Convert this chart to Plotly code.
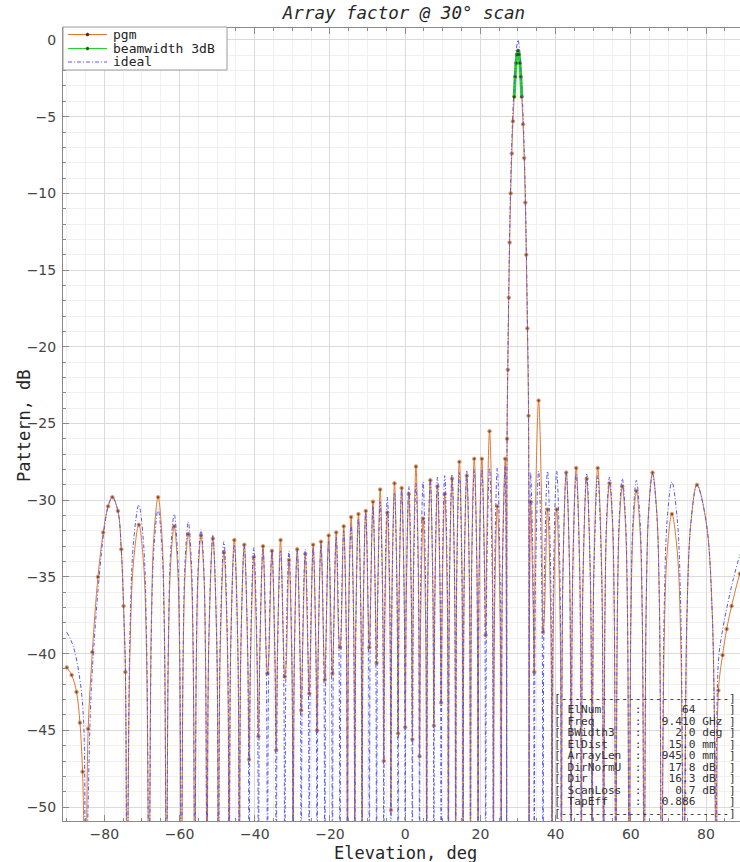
import plotly.graph_objects as go

# ---------------- data (elevation in deg, pattern in dB) ----------------
# side-lobe peaks, left of the main beam then right of it
peak_deg = [
    -77.87, -70.83, -65.70, -61.43, -57.68, -54.29, -51.15, -48.21, -45.44, -42.79,
    -40.26, -37.81, -35.44, -33.14, -30.90, -28.71, -26.57, -24.47, -22.39, -20.36,
    -18.34, -16.35, -14.38, -12.43, -10.49, -8.57, -6.65, -4.74, -2.84, -0.94,
    0.96, 2.86, 4.77, 6.68, 8.59, 10.52, 12.46, 14.41, 16.38, 18.37,
    20.39, 22.43, 24.50, 26.60,
    33.35, 35.48, 37.85, 40.29, 42.83, 45.48, 48.26, 51.20, 54.34, 57.74,
    61.49, 65.77, 70.92, 77.60]
pgm_peak_db = [
    -29.8, -31.6, -29.8, -31.7, -32.2, -32.3, -32.5, -33.4, -32.6, -32.9,
    -33.7, -33.0, -33.3, -32.6, -33.9, -33.2, -33.5, -32.9, -32.7, -32.3,
    -32.1, -31.7, -31.1, -30.9, -30.7, -30.1, -29.3, -30.8, -28.9, -29.2,
    -29.6, -27.8, -31.2, -28.7, -29.1, -29.6, -28.6, -27.5, -28.4, -27.3,
    -27.3, -25.5, -30.4, -27.3,
    -30.1, -23.5, -30.6, -30.6, -28.2, -27.9, -28.6, -27.9, -28.9, -29.1,
    -29.4, -28.2, -30.9, -29.0]
ideal_peak_db = [
    -29.8, -30.3, -30.6, -30.9, -31.4, -31.9, -32.3, -32.7, -32.9, -33.0,
    -33.1, -33.2, -33.3, -33.3, -33.3, -33.3, -33.2, -33.1, -32.9, -32.7,
    -32.4, -32.0, -31.6, -31.2, -30.8, -30.4, -30.1, -29.8, -29.5, -29.3,
    -29.1, -28.9, -28.8, -28.6, -28.5, -28.4, -28.3, -28.2, -28.1, -28.0,
    -28.0, -27.9, -27.9, -27.8,
    -28.2, -28.1, -28.1, -28.1, -28.2, -28.3, -28.3, -28.4, -28.5, -28.6,
    -28.7, -28.3, -28.8, -29.0]

# nulls between the lobes; None = the null drops below the plotted range
null_deg = [
    -85.00, -73.97, -68.12, -63.49, -59.51, -55.95, -52.69, -49.66, -46.81, -44.10,
    -41.51, -39.02, -36.62, -34.29, -32.02, -29.80, -27.64, -25.51, -23.43, -21.37,
    -19.35, -17.34, -15.36, -13.40, -11.46, -9.53, -7.61, -5.69, -3.79, -1.89,
    0.01, 1.91, 3.82, 5.72, 7.63, 9.56, 11.49, 13.43, 15.39, 17.37,
    19.38, 21.40, 23.46, 25.54, 26.98,
    32.95, 34.32, 36.65, 39.06, 41.55, 44.14, 46.85, 49.70, 52.74, 56.00,
    59.56, 63.55, 68.20, 74.07, 82.80]
pgm_null_db = [
    None, None, None, None, None, None, None, None, None, None,
    -46.9, -45.4, -41.3, -46.3, -41.5, None, -43.7, -42.6, -45.0, -41.7,
    -41.3, -39.6, None, None, None, -39.6, -40.6, -47.0, -50.2, -45.2,
    -44.8, -45.6, -46.7, None, -44.7, -43.2, None, None, None, None,
    None, -38.8, None, None, None,
    None, -41.2, -38.6, None, None, None, None, None, None, None,
    None, None, None, None, None]

# flanks of the wide lobe next to end-fire (-78 deg)
lobe1_pgm_deg = [-84.3, -83.2, -81.7, -80.3, -79.0, -76.4, -75.5, -74.9, -74.4]
lobe1_pgm_db = [-44.9, -39.9, -35.0, -32.1, -30.4, -30.7, -33.2, -36.9, -41.2]
lobe1_ideal_deg = [-83.6, -82.5, -81.2, -80.0, -78.9, -76.4, -75.5, -74.9, -74.4]
lobe1_ideal_db = [-43.0, -38.5, -34.5, -31.8, -30.3, -30.7, -33.2, -36.9, -41.2]

# flank samples of the remaining side lobes
flank_deg = [
    -73.19, -72.24, -69.61, -68.80, -67.52, -66.79, -64.71, -64.04, -62.98, -62.36,
    -60.57, -59.99, -59.05, -58.50, -56.90, -56.38, -55.54, -55.04, -53.57, -53.09,
    -52.23, -50.11, -49.23, -47.23, -46.40, -44.50, -43.71, -41.89, -41.14, -39.39,
    -38.66, -36.98, -36.27, -34.64, -33.95, -32.36, -31.68, -30.13, -29.47, -27.96,
    -27.32, -25.83, -25.20, -23.74, -23.12, -21.68, -21.07, -19.65, -19.05, -17.64,
    -17.04, -15.66, -15.07, -13.69, -13.11, -11.75, -11.17, -9.82, -9.24, -7.90,
    -7.32, -5.98, -5.41, -4.07, -3.51, -2.17, -1.61, -0.27, 0.29, 1.63,
    2.19, 3.53, 4.10, 5.44, 6.01, 7.35, 7.92, 9.27, 9.85, 11.20,
    11.78, 13.14, 13.72, 15.10, 15.69, 17.07, 17.67, 19.08, 19.68, 21.10,
    21.71, 23.15, 23.77, 25.23, 25.86, 26.87,
    33.07, 34.03, 34.67, 36.30, 37.01, 38.70, 39.43, 41.17, 41.93, 43.75,
    44.54, 46.44, 47.27, 49.27, 50.15, 52.28,
    53.14, 53.62, 55.09, 55.59, 56.44, 56.96, 58.56, 59.11, 60.04, 60.62,
    62.42, 63.04, 64.11, 64.77, 66.86, 67.59, 68.88, 69.70, 72.34, 73.28,
    74.95, 76.01, 80.03, 81.65]
pgm_flank_db = [
    -39.9, -34.0, -34.0, -39.9, -38.1, -32.2, -32.2, -38.1, -40.0, -34.1,
    -34.1, -40.0, -40.5, -34.6, -34.6, -40.5, -40.6, -34.7, -34.7, -40.6,
    -39.4, -39.4, -40.3, -40.3, -39.5, -39.5, -39.8, -39.8, -40.6, -40.6,
    -39.9, -39.9, -40.2, -40.2, -39.5, -39.5, -40.8, -40.8, -40.1, -40.1,
    -40.4, -40.4, -39.8, -39.8, -39.6, -39.6, -39.2, -39.2, -39.0, -39.0,
    -38.6, -38.6, -38.0, -38.0, -37.8, -37.8, -37.6, -37.6, -37.0, -37.0,
    -36.2, -36.2, -37.7, -37.7, -35.8, -35.8, -36.1, -36.1, -36.5, -36.5,
    -34.7, -34.7, -38.1, -38.1, -35.6, -35.6, -36.0, -36.0, -36.5, -36.5,
    -35.5, -35.5, -34.4, -34.4, -35.3, -35.3, -34.2, -34.2, -34.2, -34.2,
    -32.4, -32.4, -37.3, -37.3, -34.2, -34.2,
    -37.0, -37.0, -30.4, -30.4, -37.5, -37.5, -37.5, -37.5, -35.1, -35.1,
    -34.8, -34.8, -35.5, -35.5, -34.8, -34.8,
    -37.2, -31.3, -31.3, -37.2, -37.4, -31.5, -31.5, -37.4, -37.7, -31.8,
    -31.8, -37.7, -36.5, -30.6, -30.6, -36.5, -39.2, -33.3, -33.3, -39.2,
    -37.3, -31.4, -31.4, -37.3]
ideal_flank_db = [
    -38.6, -32.7, -32.7, -38.6, -38.9, -33.0, -33.0, -38.9, -39.2, -33.3,
    -33.3, -39.2, -39.7, -33.8, -33.8, -39.7, -40.2, -34.3, -34.3, -40.2,
    -39.2, -39.2, -39.6, -39.6, -39.8, -39.8, -39.9, -39.9, -40.0, -40.0,
    -40.1, -40.1, -40.2, -40.2, -40.2, -40.2, -40.2, -40.2, -40.2, -40.2,
    -40.1, -40.1, -40.0, -40.0, -39.8, -39.8, -39.6, -39.6, -39.3, -39.3,
    -38.9, -38.9, -38.5, -38.5, -38.1, -38.1, -37.7, -37.7, -37.3, -37.3,
    -37.0, -37.0, -36.7, -36.7, -36.4, -36.4, -36.2, -36.2, -36.0, -36.0,
    -35.8, -35.8, -35.7, -35.7, -35.5, -35.5, -35.4, -35.4, -35.3, -35.3,
    -35.2, -35.2, -35.1, -35.1, -35.0, -35.0, -34.9, -34.9, -34.9, -34.9,
    -34.8, -34.8, -34.8, -34.8, -34.7, -34.7,
    -35.1, -35.1, -35.0, -35.0, -35.0, -35.0, -35.0, -35.0, -35.1, -35.1,
    -35.2, -35.2, -35.2, -35.2, -35.3, -35.3,
    -36.8, -30.9, -30.9, -36.8, -36.9, -31.0, -31.0, -36.9, -37.0, -31.1,
    -31.1, -37.0, -36.6, -30.7, -30.7, -36.6, -37.1, -31.2, -31.2, -37.1,
    -37.3, -31.4, -31.4, -37.3]

# main beam at 30 deg
main_deg = [27.10, 27.30, 27.55, 27.78, 28.05, 28.35, 28.65, 29.00, 29.25, 29.50, 29.75,
            30.00, 30.25, 30.50, 30.75, 31.00, 31.35, 31.65, 31.95, 32.20, 32.50, 32.80]
pgm_main_db = [-26.0, -21.5, -16.8, -13.2, -10.0, -7.4, -5.3, -3.7, -2.4, -1.5, -0.95,
               -0.7, -0.95, -1.5, -2.4, -3.7, -5.5, -7.7, -10.6, -14.0, -18.8, -24.5]
ideal_main_db = [-25.3, -20.8, -16.1, -12.5, -9.3, -6.7, -4.6, -3.0, -1.7, -0.8, -0.25,
                 0.0, -0.25, -0.8, -1.7, -3.0, -4.8, -7.0, -9.9, -13.3, -18.1, -23.8]

# 3 dB beamwidth segment of the main beam
bw_deg = [29.00, 29.25, 29.50, 29.75, 30.00, 30.25, 30.50, 30.75, 31.00]
bw_db = [-3.7, -2.4, -1.5, -0.95, -0.7, -0.95, -1.5, -2.4, -3.7]

# partial lobes at both ends of the scan range
pgm_edge_deg = [-90.0, -88.7, -87.4, -86.5, -85.8, 83.3, 84.4, 85.5, 86.8, 89.0, 90.0]
pgm_edge_db = [-40.9, -41.4, -42.5, -44.5, -47.7, -42.4, -40.1, -38.4, -36.9, -34.8, -34.2]
ideal_edge_deg = [-90.0, -88.3, -86.5, -85.5, 83.3, 84.6, 85.9, 87.3, 89.0, 90.0]
ideal_edge_db = [-38.6, -39.5, -41.7, -44.5, -40.5, -38.2, -36.6, -35.1, -33.6, -33.0]

# parameter table
table_keys = ["ElNum", "Freq", "BWidth3", "ElDist", "ArrayLen", "DirNormU", "Dir", "ScanLoss", "TapEff"]
table_vals = ["64", "9.410", "2.0", "15.0", "945.0", "17.8", "16.3", "0.7", "0.886"]
table_units = ["", "GHz", "deg", "mm", "mm", "dB", "dB", "dB", ""]

# ---------------- assembly ----------------
NULL_FLOOR_DB = -56.0   # depth used for nulls that fall off the bottom of the axis
DOT = 3.5               # sample dot size on the pgm curve


def merge(*series):
    """Join (x, y, dot) series into one curve ordered by elevation."""
    pts = []
    for xs, ys, dot in series:
        pts.extend((x, y, dot) for x, y in zip(xs, ys))
    pts.sort(key=lambda p: p[0])
    return [p[0] for p in pts], [p[1] for p in pts], [p[2] for p in pts]


pgm_nulls = [NULL_FLOOR_DB if v is None else v for v in pgm_null_db]
ideal_nulls = [NULL_FLOOR_DB for _ in null_deg]

pgm_x, pgm_y, pgm_dot = merge(
    (peak_deg, pgm_peak_db, DOT), (null_deg, pgm_nulls, DOT),
    (lobe1_pgm_deg, lobe1_pgm_db, DOT), (flank_deg, pgm_flank_db, 0),
    (main_deg, pgm_main_db, DOT), (pgm_edge_deg, pgm_edge_db, DOT))
ideal_x, ideal_y, _ = merge(
    (peak_deg, ideal_peak_db, 0), (null_deg, ideal_nulls, 0),
    (lobe1_ideal_deg, lobe1_ideal_db, 0), (flank_deg, ideal_flank_db, 0),
    (main_deg, ideal_main_db, 0), (ideal_edge_deg, ideal_edge_db, 0))

# ---------------- styling ----------------
W, H = 740, 862
PL, PR, PT, PB = 63, 740, 28, 821          # plot area in pixels
X_RANGE = [-91.0, 89.04]
Y_RANGE = [-50.91, 0.78]

C_PGM = "#E2762F"
C_PGM_DOT = "#4A2008"
C_BW = "#22D422"
C_BW_DOT = "#0E5E0E"
C_IDEAL = "#5858F0"
IDEAL_DASH = "4px,2px,1px,2px"
MONO = "DejaVu Sans Mono"
SANS = "DejaVu Sans"
AXIS_C = "#8a8a8a"


def xp(px):
    return (px - PL) / (PR - PL)


def yp(py):
    return (PB - py) / (PB - PT)


fig = go.Figure()
fig.add_trace(go.Scatter(
    x=pgm_x, y=pgm_y, name="pgm", mode="lines+markers",
    line=dict(color=C_PGM, width=1, shape="spline", smoothing=1.0),
    marker=dict(color=C_PGM_DOT, size=pgm_dot), showlegend=False))
fig.add_trace(go.Scatter(
    x=bw_deg, y=bw_db, name="beamwidth 3dB", mode="lines+markers",
    line=dict(color=C_BW, width=3, shape="spline"),
    marker=dict(color=C_BW_DOT, size=3), showlegend=False))
fig.add_trace(go.Scatter(
    x=ideal_x, y=ideal_y, name="ideal", mode="lines",
    line=dict(color=C_IDEAL, width=1, dash=IDEAL_DASH, shape="spline", smoothing=1.0),
    showlegend=False))

shapes = []
annotations = []

# legend box
shapes.append(dict(type="rect", xref="paper", yref="paper",
                   x0=xp(63), x1=xp(227), y0=yp(70), y1=yp(27),
                   line=dict(color="#9a9a9a", width=1), fillcolor="white", layer="above"))
legend_rows = [("pgm", C_PGM, "solid", C_PGM_DOT, 34.5),
               ("beamwidth 3dB", C_BW, "solid", C_BW_DOT, 48.5),
               ("ideal", C_IDEAL, IDEAL_DASH, None, 62.0)]
for label, col, dash, dot, ry in legend_rows:
    shapes.append(dict(type="line", xref="paper", yref="paper",
                       x0=xp(68), x1=xp(107), y0=yp(ry), y1=yp(ry),
                       line=dict(color=col, width=1, dash=dash), layer="above"))
    if dot:
        shapes.append(dict(type="circle", xref="paper", yref="paper",
                           x0=xp(86.0), x1=xp(89.0), y0=yp(ry + 1.5), y1=yp(ry - 1.5),
                           line=dict(color=dot, width=0.5), fillcolor=dot, layer="above"))
    annotations.append(dict(text=label, xref="paper", yref="paper", x=xp(111), y=yp(ry),
                            xanchor="left", yanchor="middle", showarrow=False,
                            font=dict(family=MONO, size=13, color="#222222")))

# parameter table drawn as bracketed text rows
NB = "\u00a0"
rows = ["[" + "-" * 25 + "]"]
for k, v, u in zip(table_keys, table_vals, table_units):
    rows.append("[ " + f"{k:<10}" + ":" + f"{v:>8}" + " " + f"{u:<3}" + " ]")
rows.append("[" + "-" * 25 + "]")
for i, r in enumerate(rows):
    annotations.append(dict(text=r.replace(" ", NB), xref="paper", yref="paper",
                            x=xp(552), y=yp(698 + 11.5 * i), xanchor="left", yanchor="middle",
                            showarrow=False, font=dict(family=MONO, size=11.2, color="#333333")))

# axis titles
annotations.append(dict(text="Elevation, deg", xref="paper", yref="paper",
                        x=xp(405), y=yp(853), xanchor="center", yanchor="middle",
                        showarrow=False, font=dict(family=MONO, size=17, color="#262626")))
annotations.append(dict(text="Pattern, dB", xref="paper", yref="paper",
                        x=xp(24), y=yp(426), xanchor="center", yanchor="middle",
                        textangle=-90, showarrow=False,
                        font=dict(family=MONO, size=17, color="#262626")))

fig.update_layout(
    width=W, height=H, autosize=False,
    margin=dict(l=PL, r=W - PR, t=PT, b=H - PB, pad=0),
    paper_bgcolor="white", plot_bgcolor="white",
    title=dict(text="<i>Array factor @ 30° scan</i>", x=404 / W, xref="container",
               y=1 - 13 / H, yref="container", xanchor="center", yanchor="middle",
               font=dict(family=MONO, size=17.5, color="#262626")),
    shapes=shapes, annotations=annotations, showlegend=False,
    xaxis=dict(range=X_RANGE, tickmode="linear", tick0=0, dtick=20,
               ticks="inside", ticklen=6, tickcolor=AXIS_C,
               showline=True, linecolor=AXIS_C, linewidth=1, mirror="ticks",
               showgrid=True, gridcolor="#DADADA", gridwidth=1, zeroline=False,
               tickfont=dict(family=SANS, size=14, color="#444444"),
               minor=dict(dtick=5, ticks="inside", ticklen=3, tickcolor=AXIS_C,
                          showgrid=True, gridcolor="#F0F0F0")),
    yaxis=dict(range=Y_RANGE, tickmode="linear", tick0=0, dtick=5,
               ticks="inside", ticklen=6, tickcolor=AXIS_C,
               showline=True, linecolor=AXIS_C, linewidth=1, mirror=False,
               showgrid=True, gridcolor="#DADADA", gridwidth=1, zeroline=False,
               ticklabelstandoff=3,
               tickfont=dict(family=SANS, size=14, color="#444444"),
               minor=dict(dtick=1, ticks="inside", ticklen=3, tickcolor=AXIS_C,
                          showgrid=True, gridcolor="#F0F0F0")),
)

fig.write_html("out.html")
